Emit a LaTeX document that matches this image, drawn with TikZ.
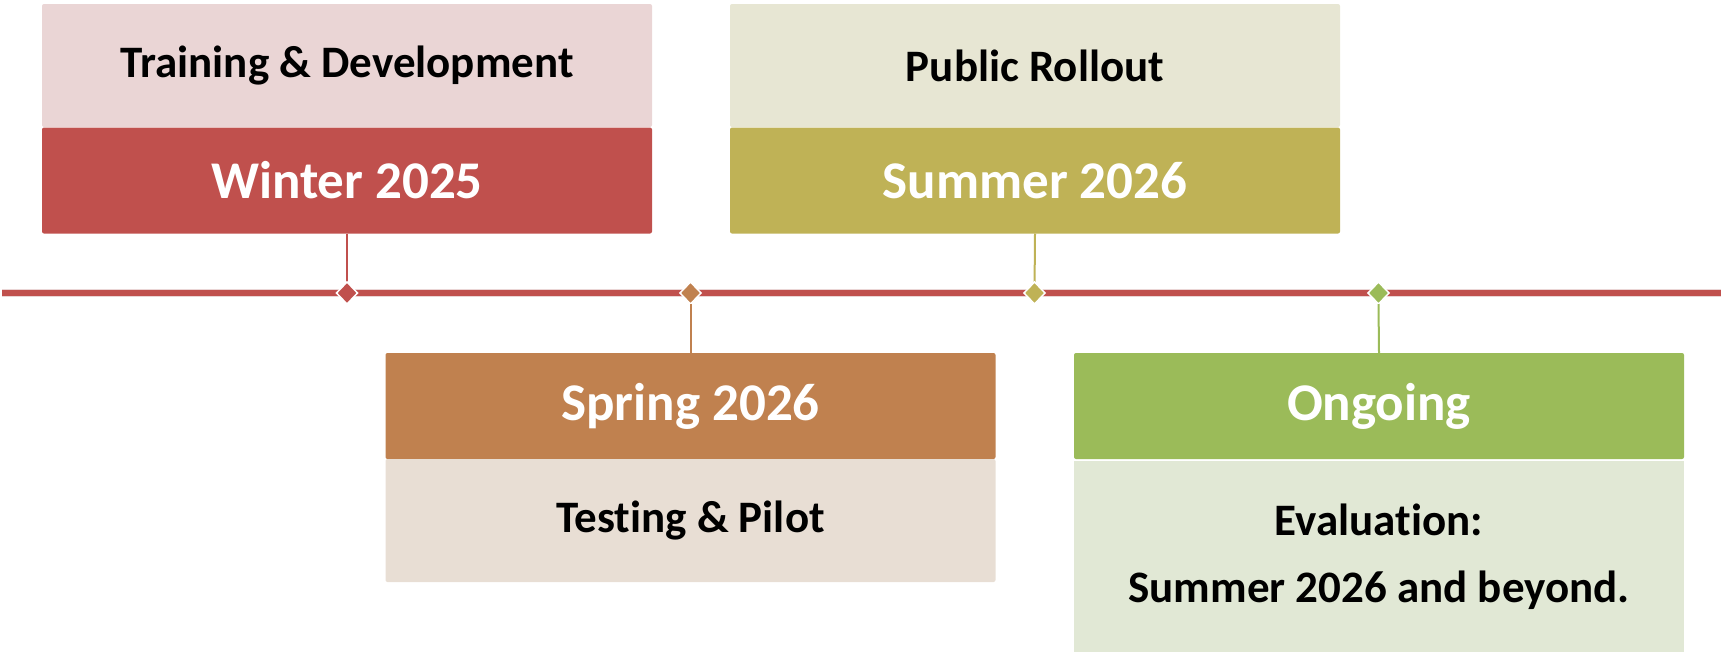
\documentclass[tikz,border=0pt]{standalone}
\usepackage{fontspec}
\setmainfont{Carlito}[Ligatures=NoCommon]
\usetikzlibrary{shapes.geometric}
\definecolor{redD}{HTML}{C0504D}
\definecolor{redL}{HTML}{EAD5D5}
\definecolor{orgD}{HTML}{C0814F}
\definecolor{orgL}{HTML}{E8DED4}
\definecolor{oliD}{HTML}{BFB256}
\definecolor{oliL}{HTML}{E7E6D3}
\definecolor{grnD}{HTML}{9BBB59}
\definecolor{grnL}{HTML}{E1E8D5}
\tikzset{
  band/.style={rectangle, minimum width=610pt, inner sep=0pt, outer sep=0pt, rounded corners=2pt, align=center},
  labelbox/.style={band, minimum height=123pt, text=black, font=\fontsize{45}{67}\selectfont\bfseries},
  datebox/.style={band, minimum height=106pt, text=white, font=\fontsize{53}{60}\selectfont\bfseries},
  marker/.style={diamond, minimum width=21pt, minimum height=22pt, inner sep=0pt, outer sep=0pt, draw=white, line width=1.5pt},
  stem/.style={line width=2pt},
  axis/.style={line width=6.5pt, draw=redD}
}
\begin{document}
\begin{tikzpicture}[x=1pt,y=-1pt]
\useasboundingbox (0,0) rectangle (1721,651);
% timeline
\coordinate (tl) at (2,293);
\coordinate (tr) at (1721,293);
\draw[line width=8pt, draw=redL] (tl) -- (tr);
\draw[axis] (tl) -- (tr);
% Winter 2025
\node[labelbox, fill=redL] (wl) at (347,65.5) {Training \& Development};
\node[datebox, fill=redD] (wd) at (347,180.5) {Winter 2025};
% Summer 2026
\node[labelbox, fill=oliL] (sl) at (1035,65.5) {Public Rollout};
\node[datebox, fill=oliD] (sd) at (1035,180.5) {Summer 2026};
% Spring 2026
\node[datebox, fill=orgD] (pd) at (690.5,406) {Spring 2026};
\node[labelbox, fill=orgL] (pl) at (690.5,520.5) {Testing \& Pilot};
% Ongoing
\node[datebox, fill=grnD] (od) at (1379,406) {Ongoing};
\node[band, minimum height=192pt, fill=grnL, text=black, font=\fontsize{45}{67}\selectfont\bfseries, rounded corners=0pt] (ol) at (1379,557) {Evaluation:\\Summer 2026 and beyond.};
% stems
\draw[stem, draw=redD] (wd.south) -- (347,293);
\draw[stem, draw=oliD] (sd.south) -- (1034.5,293);
% markers
\node[marker, fill=redD] (m1) at (347,293) {};
\node[marker, fill=orgD] (m2) at (690.5,293) {};
\node[marker, fill=oliD] (m3) at (1034.5,293) {};
\node[marker, fill=grnD] (m4) at (1378.5,293) {};
\draw[stem, draw=orgD] (m2.south) -- (pd.north);
\draw[stem, draw=grnD] (m4.south) -- (od.north);
\end{tikzpicture}
\end{document}
